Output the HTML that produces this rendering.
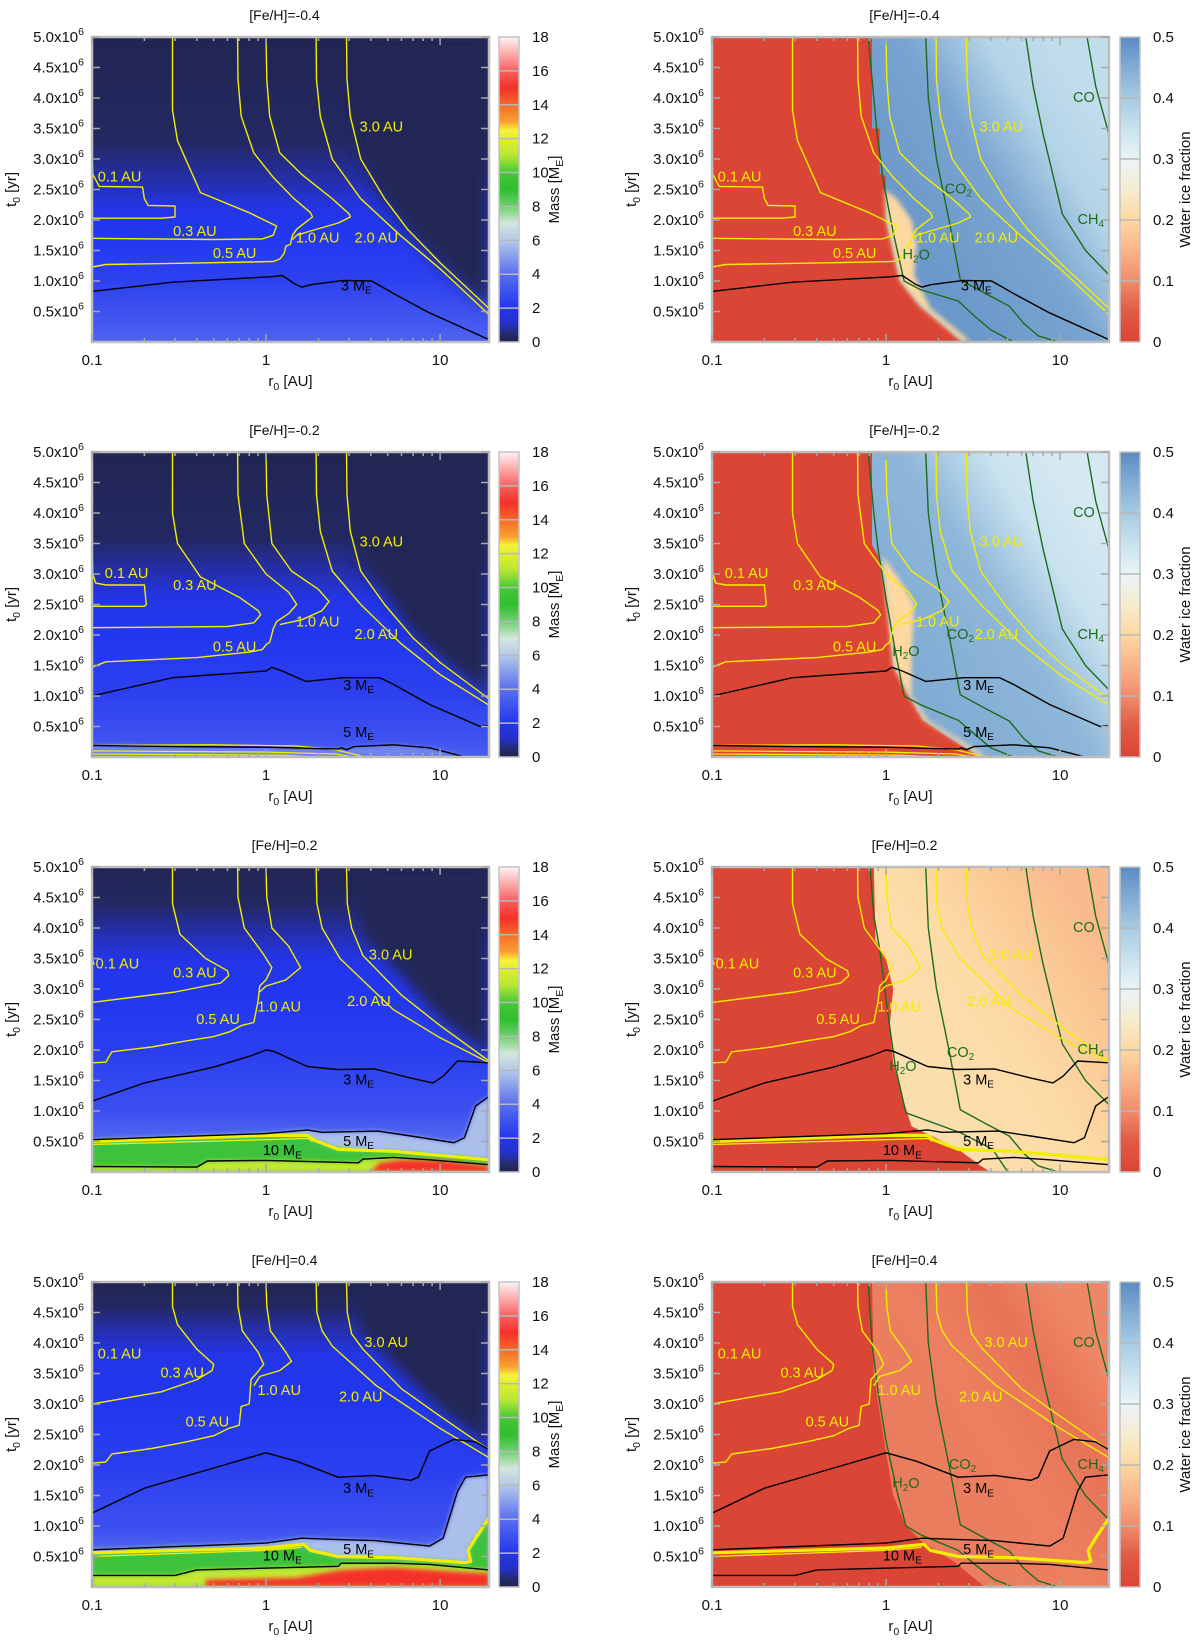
<!DOCTYPE html>
<html><head><meta charset="utf-8">
<style>
html,body{margin:0;padding:0;background:#fff;}
svg{display:block;font-family:"Liberation Sans",Arial,sans-serif;}
</style></head>
<body>
<svg id="fig" xmlns="http://www.w3.org/2000/svg" width="1200" height="1640" viewBox="0 0 1200 1640"></svg>
<script>
// ---------- axis / layout ----------
const RMIN = 0.1, RMAX = 19.1, TMAX = 5;
const W = 397, H = 305;
const X0L = 92, X0R = 712;
const TOPS = [37, 452, 867, 1282];
const titles = ["[Fe/H]=-0.4", "[Fe/H]=-0.2", "[Fe/H]=0.2", "[Fe/H]=0.4"];
const yTickVals = [0.5, 1.0, 1.5, 2.0, 2.5, 3.0, 3.5, 4.0, 4.5, 5.0];
const yTickText = ["0.5x10", "1.0x10", "1.5x10", "2.0x10", "2.5x10", "3.0x10", "3.5x10", "4.0x10", "4.5x10", "5.0x10"];
const xTickVals = [0.1, 1, 10];
const xTickText = ["0.1", "1", "10"];
const xMinorVals = [0.2,0.3,0.4,0.5,0.6,0.7,0.8,0.9,2,3,4,5,6,7,8,9];
const massTicks = [0,2,4,6,8,10,12,14,16,18];
const iceTicks = [0,0.1,0.2,0.3,0.4,0.5];
const iceTickText = ["0","0.1","0.2","0.3","0.4","0.5"];

// ---------- row 1 ([Fe/H]=-0.4) ----------
const row1_bgT = [5,3.3,2.6,2.2,1.8,1.0,0.3,0];
const row1_bgM = [0.1,0.3,0.9,1.8,2.0,2.4,3.2,3.6];
const row1_wedge = [[3.3,5],[3.3,3.2],[4.5,2.4],[6.5,1.8],[10,1.25],[19.1,0.55],[19.1,5]];
const row1_au01 = [[0.1,3.1],[0.101,2.75],[0.11,2.55],[0.195,2.54],[0.2,2.35],[0.21,2.24],[0.3,2.23],[0.3,2.05],[0.25,2.03],[0.1,2.03]];
const row1_au03 = [[0.29,5],[0.29,3.8],[0.31,3.3],[0.42,2.45],[0.8,2.12],[1.15,1.9],[1.1,1.75],[0.95,1.69],[0.5,1.68],[0.1,1.70]];
const row1_au05 = [[0.686,5],[0.69,4.3],[0.72,3.7],[0.85,3.1],[1.1,2.7],[1.45,2.35],[1.8,2.12],[1.85,2.05],[1.7,1.97],[1.5,1.85],[1.42,1.75],[1.38,1.6],[1.3,1.57],[1.27,1.45],[1.2,1.36],[1.1,1.32],[0.5,1.3],[0.12,1.27],[0.1,1.23]];
const row1_au10 = [[1.0,5],[1.01,4.3],[1.05,3.7],[1.2,3.1],[1.6,2.75],[2.4,2.35],[3.0,2.1],[3.05,2.05],[2.6,1.95],[1.8,1.82],[1.5,1.75],[1.42,1.68]];
const row1_au20 = [[1.94,5],[1.95,4.3],[2.05,3.7],[2.4,3.0],[3.5,2.35],[5.9,1.75],[10,1.2],[19.1,0.45]];
const row1_au30 = [[2.9,5],[2.92,4.3],[3.05,3.7],[3.5,3.0],[4.8,2.35],[6.5,1.85],[10,1.3],[19.1,0.55]];
const row1_m3 = [[0.1,0.83],[0.29,0.98],[1.08,1.07],[1.24,1.09],[1.47,0.95],[1.61,0.9],[1.81,0.94],[2.78,1.01],[4.04,1.0],[5.36,0.8],[8.66,0.48],[19.1,0.04]];
const row1_m5 = [];
const row1_m10 = [];
const row1_low1 = [];
const row1_low2 = [];
const row1_low3 = [];
const row1_red = [];
const row1_labelsY = [["0.1 AU",0.144,2.69],["0.3 AU",0.39,1.8],["0.5 AU",0.66,1.44],["1.0 AU",1.98,1.69],["2.0 AU",4.3,1.69],["3.0 AU",4.6,3.51]];
const row1_labelsK = [["3",3.3,0.91]];
const row1_h2o = [[0.79,5],[0.85,4],[0.89,3.4],[0.97,2.6],[1.1,1.8],[1.27,1.0],[1.57,0.86],[2.6,0.67],[3.3,0.4],[4.0,0.2],[5.4,0]];
const row1_ice = [[0.83,5],[0.83,3.5],[0.92,3.5],[0.92,2.77],[1.0,2.7],[1.0,2.0],[1.2,1.0],[1.57,0.59],[2.75,0]];
const row1_iceNear = 0.48, row1_iceFar = 0.36;
const row1_trans = [[0.98,2.5],[1.15,2.35],[1.4,2.0],[1.5,1.6],[1.45,1.1],[1.8,0.55],[3.0,0.03],[2.75,0],[1.55,0.6],[1.2,1.0],[1.0,2.0]];
const row1_labelsG = [["CO2",2.6,2.5],["H2O",1.49,1.42]];

// ---------- row 2 ([Fe/H]=-0.2) ----------
const row2_bgT = [5,3.6,3.0,2.6,2.0,1.0,0.3,0];
const row2_bgM = [0.1,0.3,0.9,1.8,2.0,2.4,3.0,3.4];
const row2_wedge = [[3.3,5],[3.3,3.3],[5,2.6],[7,2.0],[10,1.6],[19.1,1.0],[19.1,5]];
const row2_au01 = [[0.1,3.4],[0.101,3.0],[0.105,2.85],[0.12,2.82],[0.2,2.82],[0.205,2.5],[0.2,2.47],[0.1,2.47]];
const row2_au03 = [[0.29,5],[0.29,4.0],[0.31,3.5],[0.42,2.95],[0.7,2.62],[0.9,2.4],[0.93,2.33],[0.85,2.2],[0.6,2.14],[0.1,2.12]];
const row2_au05 = [[0.686,5],[0.69,4.3],[0.75,3.5],[1.0,3.0],[1.35,2.7],[1.5,2.5],[1.35,2.35],[1.15,2.22],[1.1,2.1],[1.05,1.88],[1.0,1.84],[0.95,1.76],[0.8,1.72],[0.4,1.63],[0.12,1.56],[0.1,1.47]];
const row2_au10 = [[1.0,5],[1.01,4.3],[1.08,3.5],[1.4,3.05],[2.0,2.75],[2.3,2.55],[2.1,2.4],[1.6,2.25],[1.2,2.17]];
const row2_au20 = [[1.94,5],[1.95,4.3],[2.05,3.7],[2.4,3.05],[3.5,2.5],[6,1.85],[10,1.35],[19.1,0.85]];
const row2_au30 = [[2.9,5],[2.92,4.3],[3.05,3.7],[3.5,3.05],[4.8,2.5],[7,1.95],[10,1.55],[19.1,0.95]];
const row2_m3 = [[0.1,1.0],[0.29,1.3],[1.0,1.41],[1.08,1.47],[1.24,1.41],[1.69,1.24],[2.8,1.3],[4.5,1.3],[5.4,1.19],[8.7,0.86],[17,0.5],[19.1,0.52]];
const row2_m5 = [[0.1,0.19],[0.3,0.17],[1.0,0.16],[2.6,0.13],[2.7,0.15],[2.9,0.12],[3.2,0.17],[5.4,0.2],[8.7,0.15],[13.5,0.01]];
const row2_m10 = [];
const row2_low1 = [[0.1,0.19],[0.5,0.2],[1.5,0.18],[2.5,0.12],[3.5,0.02]];
const row2_low2 = [[0.1,0.1],[1,0.08],[2.5,0.05],[3.2,0.0]];
const row2_low3 = [[0.1,0.05],[1.2,0.03],[2.0,0]];
const row2_red = [];
const row2_labelsY = [["0.1 AU",0.158,3.0],["0.3 AU",0.39,2.8],["0.5 AU",0.66,1.79],["1.0 AU",1.98,2.2],["2.0 AU",4.3,2.0],["3.0 AU",4.6,3.51]];
const row2_labelsK = [["3",3.4,1.16],["5",3.4,0.39]];
const row2_h2o = [[0.79,5],[0.85,4],[0.9,3.4],[1.0,2.6],[1.12,1.8],[1.27,1.0],[1.6,0.85],[2.6,0.6],[3.3,0.35],[4.0,0.15],[5.4,0]];
const row2_ice = [[0.83,5],[0.83,3.48],[0.9,3.3],[1.0,2.6],[1.1,1.5],[1.35,1.0],[1.64,0.6],[2.5,0.25],[3.5,0]];
const row2_iceNear = 0.45, row2_iceFar = 0.33;
const row2_trans = [[0.95,3.3],[1.2,2.9],[1.45,2.5],[1.4,1.6],[1.4,1.0],[1.75,0.6],[3.7,0.03],[3.5,0],[1.64,0.6],[1.35,1.0],[1.1,1.5],[1.0,2.6]];
const row2_labelsG = [["CO2",2.67,2.0],["H2O",1.3,1.72]];

// ---------- row 3 ([Fe/H]=0.2) ----------
const row3_bgT = [5,4.4,3.9,3.5,3.0,2.0,1.0,0.6,0];
const row3_bgM = [0.1,0.3,0.9,1.8,2.0,2.3,2.9,3.6,4];
const row3_wedge = [[3.5,5],[3.5,3.9],[6,3.2],[10,2.5],[19.1,1.9],[19.1,5]];
const row3_au01 = [[0.1,4.0],[0.1,3.5],[0.103,3.4]];
const row3_au03 = [[0.29,5],[0.29,4.4],[0.32,3.9],[0.45,3.5],[0.6,3.3],[0.61,3.22],[0.55,3.1],[0.3,2.95],[0.1,2.78]];
const row3_au05 = [[0.686,5],[0.69,4.5],[0.75,4.0],[0.95,3.6],[1.08,3.35],[1.0,3.15],[0.92,3.05],[0.9,2.8],[0.85,2.45],[0.72,2.4],[0.62,2.3],[0.5,2.22],[0.35,2.15],[0.22,2.05],[0.13,1.97],[0.12,1.8],[0.1,1.79]];
const row3_au10 = [[1.0,5],[1.01,4.5],[1.08,4.0],[1.35,3.7],[1.58,3.35],[1.3,3.15],[1.0,3.05],[0.92,2.95]];
const row3_au20 = [[1.94,5],[1.96,4.4],[2.1,4.0],[2.66,3.5],[5.4,2.66],[10,2.2],[19.1,1.79]];
const row3_au30 = [[2.9,5],[2.93,4.4],[3.1,4.0],[3.6,3.55],[6,2.9],[10,2.4],[19.1,1.82]];
const row3_m3 = [[0.1,1.16],[0.2,1.46],[0.5,1.72],[0.81,1.9],[1.0,2.0],[1.1,1.98],[1.73,1.73],[2.54,1.68],[4.2,1.69],[6.8,1.54],[9.1,1.46],[10.4,1.57],[12.6,1.82],[19.1,1.79]];
const row3_m5 = [[0.1,0.53],[1.0,0.63],[1.73,0.69],[2.1,0.65],[4.4,0.67],[6.8,0.59],[12,0.48],[13.8,0.56],[16,1.08],[19.1,1.24]];
const row3_m10 = [[0.1,0.09],[0.4,0.08],[0.46,0.18],[1.0,0.19],[3.4,0.15],[3.6,0.21],[5.4,0.24],[8.7,0.2],[19.1,0.12]];
const row3_low1 = [[0.1,0.5],[1.0,0.6],[1.73,0.6],[1.9,0.52],[2.6,0.37],[5.4,0.34],[19.1,0.2]];
const row3_low2 = [[0.1,0.45],[1,0.53],[1.75,0.55],[1.85,0.5]];
const row3_low3 = [];
const row3_red = [[4.0,0],[4.5,0.15],[6,0.2],[10,0.19],[19.1,0.1],[19.1,0]];
const row3_labelsY = [["0.1 AU",0.14,3.4],["0.3 AU",0.39,3.25],["0.5 AU",0.53,2.49],["1.0 AU",1.19,2.69],["2.0 AU",3.9,2.78],["3.0 AU",5.2,3.55]];
const row3_labelsK = [["3",3.4,1.5],["5",3.4,0.49],["10",1.24,0.34]];
const row3_h2o = [[0.81,5],[0.85,4.2],[0.92,3.65],[1.03,2.55],[1.13,1.73],[1.3,0.97],[2.7,0.64],[4.1,0.37],[5.0,0]];
const row3_ice = [[0.85,5],[0.87,3.8],[1.0,3.5],[1.1,3.0],[1.05,2.4],[1.1,1.8],[1.25,1.2],[1.4,0.75],[1.8,0.6],[2.6,0.37],[3.5,0.1],[4.0,0]];
const row3_iceNear = 0.215, row3_iceFar = 0.16;
const row3_trans = [];
const row3_labelsG = [["CO2",2.68,1.95],["H2O",1.25,1.72]];

// ---------- row 4 ([Fe/H]=0.4) ----------
const row4_bgT = [5,4.6,4.2,3.8,3.0,2.0,1.0,0.6,0];
const row4_bgM = [0.1,0.3,0.9,1.8,2.0,2.3,2.9,3.6,4];
const row4_wedge = [[3.5,5],[3.5,4.2],[6,3.5],[10,2.9],[19.1,2.3],[19.1,5]];
const row4_au01 = [[0.1,3.95],[0.1,3.7]];
const row4_au03 = [[0.29,5],[0.29,4.6],[0.31,4.3],[0.4,3.9],[0.5,3.65],[0.49,3.55],[0.4,3.4],[0.25,3.2],[0.1,3.0]];
const row4_au05 = [[0.686,5],[0.69,4.6],[0.73,4.2],[0.9,3.85],[0.97,3.65],[0.88,3.5],[0.82,3.4],[0.8,3.0],[0.72,2.96],[0.7,2.65],[0.61,2.6],[0.5,2.48],[0.35,2.38],[0.22,2.27],[0.13,2.18],[0.12,2.05],[0.1,2.03]];
const row4_au10 = [[1.0,5],[1.01,4.6],[1.06,4.2],[1.3,3.85],[1.4,3.7],[1.2,3.55],[0.92,3.45],[0.85,3.3]];
const row4_au20 = [[1.94,5],[1.96,4.5],[2.1,4.2],[2.4,3.95],[4.3,3.3],[10,2.6],[19.1,2.12]];
const row4_au30 = [[2.9,5],[2.93,4.5],[3.1,4.15],[3.6,3.9],[6,3.25],[10,2.8],[19.1,2.25]];
const row4_m3 = [[0.1,1.21],[0.2,1.62],[0.5,1.95],[1.0,2.2],[1.5,2.06],[2.6,1.8],[4.2,1.83],[6.8,1.75],[7.5,1.8],[8.7,2.23],[12,2.42],[16,2.38],[19.1,2.25]];
const row4_m5 = [[0.1,0.61],[1.0,0.72],[1.6,0.8],[2.5,0.78],[4.2,0.76],[8.7,0.67],[10.4,0.8],[12.6,1.57],[14,1.8],[19.1,1.84]];
const row4_m10 = [[0.1,0.19],[0.3,0.19],[0.4,0.28],[2.6,0.34],[2.7,0.39],[5.4,0.39],[8.7,0.37],[19.1,0.28]];
const row4_low1 = [[0.1,0.56],[1.0,0.64],[1.65,0.7],[1.8,0.6],[2.6,0.5],[5.4,0.48],[14,0.4],[15,0.42],[14.5,0.6],[16,0.8],[19.1,1.13]];
const row4_low2 = [[0.1,0.5],[1.0,0.6],[1.6,0.65]];
const row4_low3 = [];
const row4_red = [[0.45,0],[0.45,0.12],[1.5,0.15],[2.7,0.28],[5.4,0.32],[19.1,0.22],[19.1,0]];
const row4_labelsY = [["0.1 AU",0.144,3.81],["0.3 AU",0.33,3.5],["0.5 AU",0.46,2.69],["1.0 AU",1.19,3.21],["2.0 AU",3.5,3.1],["3.0 AU",4.9,4.0]];
const row4_labelsK = [["3",3.4,1.6],["5",3.4,0.6],["10",1.24,0.5]];
const row4_h2o = [[0.79,5],[0.83,4.0],[0.9,3.2],[1.0,2.4],[1.15,1.6],[1.3,1.0],[1.6,0.85],[2.6,0.6],[3.3,0.35],[4.2,0.12],[5.4,0]];
const row4_ice = [[0.83,5],[0.85,3.5],[0.95,2.6],[1.1,1.5],[1.3,1.0],[1.6,0.75],[2.5,0.4],[3.7,0]];
const row4_iceNear = 0.085, row4_iceFar = 0.095;
const row4_trans = [];
const row4_labelsG = [["CO2",2.75,2.0],["H2O",1.3,1.69]];

// ---------- shared ice lines ----------
const ice_co2 = [[1.69,5],[1.75,4],[1.95,3],[2.3,2.0],[2.67,1.02],[3.7,0.8],[5.1,0.59],[6.2,0.3],[7.5,0.1],[9.8,0]];
const ice_ch4 = [[6.35,5],[7,4.2],[8,3.4],[10.3,2.1],[14,1.5],[19.1,1.1]];
const ice_co = [[14.3,5],[16,4.2],[19.1,3.4]];
const ice_labelCO = [13.7,4.0];
const ice_labelCH4 = [15,2.0];

// ---------- colormaps ----------
const massStops = [[0,'#20244a'],[0.5,'#252b70'],[1,'#2530c0'],[2,'#2236f0'],[4,'#5a6ef0'],[6,'#b4c8ea'],[7,'#d4e6dc'],[8,'#6fd06f'],[9,'#2fbf2f'],[10,'#45c838'],[11,'#b5e636'],[12,'#e2f02a'],[12.5,'#f7f23a'],[13,'#f9a030'],[14,'#f86a28'],[15,'#f5302a'],[16,'#f86060'],[18,'#fff4f4']];
const iceStops = [[0,'#da4535'],[0.05,'#e05a44'],[0.1,'#f08c6a'],[0.15,'#f8b488'],[0.2,'#fdd8a0'],[0.25,'#f6ecd0'],[0.3,'#eaf4f8'],[0.35,'#c8e2ee'],[0.4,'#a6cae2'],[0.45,'#82acd4'],[0.5,'#5b8bc4']];

function hex2rgb(h){return [parseInt(h.slice(1,3),16),parseInt(h.slice(3,5),16),parseInt(h.slice(5,7),16)];}
function cmap(stops,v){
  if(v<=stops[0][0]) return stops[0][1];
  for(let i=1;i<stops.length;i++){
    if(v<=stops[i][0]){
      const a=stops[i-1],b=stops[i],f=(v-a[0])/(b[0]-a[0]);
      const ca=hex2rgb(a[1]),cb=hex2rgb(b[1]);
      return 'rgb('+ca.map((c,k)=>Math.round(c+(cb[k]-c)*f)).join(',')+')';
    }
  }
  return stops[stops.length-1][1];
}
const massColor = v=>cmap(massStops,v);
const iceColor = v=>cmap(iceStops,v);

function xs(r,x0){return x0 + W*Math.log10(r/RMIN)/Math.log10(RMAX/RMIN);}
function ys(t,top){return top + H*(1 - t/TMAX);}

const NS='http://www.w3.org/2000/svg';
const svg=document.getElementById('fig');
function mk(tag,parent){const e=document.createElementNS(NS,tag);(parent||svg).appendChild(e);return e;}
function pathD(pts,x0,top){return pts.map((p,i)=>(i?'L':'M')+xs(p[0],x0).toFixed(1)+','+ys(p[1],top).toFixed(1)).join('');}

const defs=mk('defs');
const blur=mk('filter',defs);blur.setAttribute('id','blur8');blur.setAttribute('x','-20%');blur.setAttribute('y','-20%');blur.setAttribute('width','140%');blur.setAttribute('height','140%');
const fb=mk('feGaussianBlur',blur);fb.setAttribute('stdDeviation','7');
const blur2=mk('filter',defs);blur2.setAttribute('id','blur3');blur2.setAttribute('x','-20%');blur2.setAttribute('y','-20%');blur2.setAttribute('width','140%');blur2.setAttribute('height','140%');
const fb2=mk('feGaussianBlur',blur2);fb2.setAttribute('stdDeviation','2.5');

const rows=[
 {bgT:row1_bgT,bgM:row1_bgM,wedge:row1_wedge,au:[row1_au01,row1_au03,row1_au05,row1_au10,row1_au20,row1_au30],m3:row1_m3,m5:row1_m5,m10:row1_m10,low:[row1_low1,row1_low2,row1_low3],red:row1_red,lY:row1_labelsY,lK:row1_labelsK,h2o:row1_h2o,ice:row1_ice,near:row1_iceNear,far:row1_iceFar,trans:row1_trans,lG:row1_labelsG},
 {bgT:row2_bgT,bgM:row2_bgM,wedge:row2_wedge,au:[row2_au01,row2_au03,row2_au05,row2_au10,row2_au20,row2_au30],m3:row2_m3,m5:row2_m5,m10:row2_m10,low:[row2_low1,row2_low2,row2_low3],red:row2_red,lY:row2_labelsY,lK:row2_labelsK,h2o:row2_h2o,ice:row2_ice,near:row2_iceNear,far:row2_iceFar,trans:row2_trans,lG:row2_labelsG},
 {bgT:row3_bgT,bgM:row3_bgM,wedge:row3_wedge,au:[row3_au01,row3_au03,row3_au05,row3_au10,row3_au20,row3_au30],m3:row3_m3,m5:row3_m5,m10:row3_m10,low:[row3_low1,row3_low2,row3_low3],red:row3_red,lY:row3_labelsY,lK:row3_labelsK,h2o:row3_h2o,ice:row3_ice,near:row3_iceNear,far:row3_iceFar,trans:row3_trans,lG:row3_labelsG},
 {bgT:row4_bgT,bgM:row4_bgM,wedge:row4_wedge,au:[row4_au01,row4_au03,row4_au05,row4_au10,row4_au20,row4_au30],m3:row4_m3,m5:row4_m5,m10:row4_m10,low:[row4_low1,row4_low2,row4_low3],red:row4_red,lY:row4_labelsY,lK:row4_labelsK,h2o:row4_h2o,ice:row4_ice,near:row4_iceNear,far:row4_iceFar,trans:row4_trans,lG:row4_labelsG}
];
const auNames=['0-1-au','0-3-au','0-5-au','1-0-au','2-0-au','3-0-au'];

function line(g,pts,x0,top,color,w,name){
  if(!pts.length) return;
  const p=mk('path',g);
  
  
  p.setAttribute('d',pathD(pts,x0,top));
  p.setAttribute('fill','none');p.setAttribute('stroke',color);p.setAttribute('stroke-width',w);p.setAttribute('stroke-linejoin','round');
}
function area(g,pts,x0,top,fill,name,filt){
  if(!pts.length) return;
  const p=mk('path',g);
  
  
  p.setAttribute('d',pathD(pts,x0,top)+'Z');
  p.setAttribute('fill',fill);
  if(filt) p.setAttribute('filter','url(#'+filt+')');
}
function under(pts){return pts.concat([[RMAX,0],[RMIN,0]]);}
function label(g,txt,sub,rest,x,y,color,name){
  const t=mk('text',g);
  
  
  t.setAttribute('x',x);t.setAttribute('y',y);t.setAttribute('fill',color);
  t.setAttribute('font-size','14.5');t.setAttribute('text-anchor','middle');t.setAttribute('dominant-baseline','middle');
  t.appendChild(document.createTextNode(txt));
  if(sub){const s=mk('tspan',t);s.setAttribute('font-size','10');s.setAttribute('dy','4');s.textContent=sub;
    if(rest){const r2=mk('tspan',t);r2.setAttribute('dy','-4');r2.textContent=rest;}}
  return t;
}

function axes(g,x0,top,idx){
  const fr=mk('rect',g);
  
  
  fr.setAttribute('x',x0);fr.setAttribute('y',top);fr.setAttribute('width',W);fr.setAttribute('height',H);
  fr.setAttribute('fill','none');fr.setAttribute('stroke','#bdbdbd');fr.setAttribute('stroke-width','2.5');
  const tk=mk('path',g);
  
  
  let d='';
  yTickVals.forEach(v=>{const y=ys(v,top);d+='M'+x0+','+y+'h8M'+(x0+W)+','+y+'h-8';});
  xTickVals.forEach(v=>{const x=xs(v,x0);d+='M'+x+','+(top+H)+'v-8M'+x+','+top+'v8';});
  xMinorVals.forEach(v=>{const x=xs(v,x0);d+='M'+x+','+(top+H)+'v-4M'+x+','+top+'v4';});
  tk.setAttribute('d',d);tk.setAttribute('stroke','#a8a8a8');tk.setAttribute('stroke-width','1.5');tk.setAttribute('fill','none');
  yTickVals.forEach((v,i)=>{
    const t=mk('text',g);
    
    
    t.setAttribute('x',x0-8);t.setAttribute('y',ys(v,top)+5);t.setAttribute('font-size','15');t.setAttribute('text-anchor','end');t.setAttribute('fill','#111');
    t.appendChild(document.createTextNode(yTickText[i]));
    const s=mk('tspan',t);s.setAttribute('font-size','10.5');s.setAttribute('dy','-7');s.textContent='6';
  });
  xTickVals.forEach((v,i)=>{
    const t=mk('text',g);
    
    
    t.setAttribute('x',xs(v,x0));t.setAttribute('y',top+H+23);t.setAttribute('font-size','15');t.setAttribute('text-anchor','middle');t.setAttribute('fill','#111');
    t.textContent=xTickText[i];
  });
  const xl=mk('text',g);
  
  
  xl.setAttribute('x',x0+W/2);xl.setAttribute('y',top+H+44);xl.setAttribute('font-size','15');xl.setAttribute('text-anchor','middle');xl.setAttribute('fill','#111');
  xl.appendChild(document.createTextNode('r'));
  let s=mk('tspan',xl);s.setAttribute('font-size','10.5');s.setAttribute('dy','4');s.textContent='0';
  s=mk('tspan',xl);s.setAttribute('dy','-4');s.textContent=' [AU]';
  const yl=mk('text',g);
  
  
  const cx=x0-76,cy=top+H/2;
  yl.setAttribute('x',cx);yl.setAttribute('y',cy);yl.setAttribute('font-size','15');yl.setAttribute('text-anchor','middle');yl.setAttribute('fill','#111');
  yl.setAttribute('transform','rotate(-90 '+cx+' '+cy+')');
  yl.appendChild(document.createTextNode('t'));
  s=mk('tspan',yl);s.setAttribute('font-size','10.5');s.setAttribute('dy','4');s.textContent='0';
  s=mk('tspan',yl);s.setAttribute('dy','-4');s.textContent=' [yr]';
  const ti=mk('text',g);
  
  
  ti.setAttribute('x',x0+W/2-6);ti.setAttribute('y',top-17);ti.setAttribute('font-size','14');ti.setAttribute('text-anchor','middle');ti.setAttribute('fill','#111');
  ti.textContent=titles[idx];
}

function colorbar(g,xc,top,isIce){
  const gid='cb'+(isIce?'i':'m')+top;
  const lg=mk('linearGradient',defs);lg.setAttribute('id',gid);lg.setAttribute('x1','0');lg.setAttribute('y1','1');lg.setAttribute('x2','0');lg.setAttribute('y2','0');
  const stops=isIce?iceStops:massStops, mx=isIce?0.5:18;
  stops.forEach(s=>{const st=mk('stop',lg);st.setAttribute('offset',s[0]/mx);st.setAttribute('stop-color',s[1]);});
  const r=mk('rect',g);
  
  
  r.setAttribute('x',xc);r.setAttribute('y',top);r.setAttribute('width',20);r.setAttribute('height',H);
  r.setAttribute('fill','url(#'+gid+')');r.setAttribute('stroke','#c4c4c4');r.setAttribute('stroke-width','1.5');
  const vals=isIce?iceTicks:massTicks;
  vals.forEach((v,i)=>{
    const y=top+H*(1-v/mx);
    if(i>0&&i<vals.length-1){
      const l=mk('line',g);
      
      
      l.setAttribute('x1',xc);l.setAttribute('x2',xc+20);l.setAttribute('y1',y);l.setAttribute('y2',y);l.setAttribute('stroke','#b8b8b8');l.setAttribute('stroke-width','1.5');
    }
    const t=mk('text',g);
    
    
    t.setAttribute('x',xc+33);t.setAttribute('y',y+5);t.setAttribute('font-size','15');t.setAttribute('fill','#111');
    t.textContent=isIce?iceTickText[i]:String(v);
  });
  const lb=mk('text',g);
  
  
  const cx=xc+(isIce?70:60),cy=top+H/2;
  lb.setAttribute('x',cx);lb.setAttribute('y',cy);lb.setAttribute('font-size','15');lb.setAttribute('text-anchor','middle');lb.setAttribute('fill','#111');
  lb.setAttribute('transform','rotate(-90 '+cx+' '+cy+')');
  if(isIce){lb.textContent='Water ice fraction';}
  else{lb.appendChild(document.createTextNode('Mass [M'));const s=mk('tspan',lb);s.setAttribute('font-size','10.5');s.setAttribute('dy','4');s.textContent='E';const s2=mk('tspan',lb);s2.setAttribute('dy','-4');s2.textContent=']';}
}

function clip(id,x0,top){
  const cp=mk('clipPath',defs);cp.setAttribute('id',id);
  const r=mk('rect',cp);r.setAttribute('x',x0);r.setAttribute('y',top);r.setAttribute('width',W);r.setAttribute('height',H);
}

function contours(g,R,x0,top){
  const Y='#f2ee00';
  R.low.forEach((l,i)=>line(g,l,x0,top,Y,i===0&&R.m10.length?3.2:1.3,'low-yellow-contour'));
  R.au.forEach((a,i)=>line(g,a,x0,top,Y,1.4,'contour-'+auNames[i]));
  line(g,R.m3,x0,top,'#000',1.4,'contour-3-me');
  line(g,R.m5,x0,top,'#000',1.4,'contour-5-me');
  line(g,R.m10,x0,top,'#000',1.4,'contour-10-me');
}
function contourLabels(g,R,x0,top){
  R.lY.forEach(l=>label(g,l[0],'','',xs(l[1],x0),ys(l[2],top),'#f2ee00','au-label'));
  R.lK.forEach(l=>label(g,l[0]+' M','E','',xs(l[1],x0),ys(l[2],top),'#000','mass-label'));
}

rows.forEach((R,idx)=>{
  const top=TOPS[idx];
  // ---- left: mass ----
  let x0=X0L;
  const gL=mk('g');
  
  
  clip('clipL'+idx,x0,top);
  const inner=mk('g',gL);inner.setAttribute('clip-path','url(#clipL'+idx+')');
  const gid='bgL'+idx;
  const lg=mk('linearGradient',defs);lg.setAttribute('id',gid);lg.setAttribute('gradientUnits','userSpaceOnUse');
  lg.setAttribute('x1',0);lg.setAttribute('x2',0);lg.setAttribute('y1',top);lg.setAttribute('y2',top+H);
  R.bgT.forEach((t,i)=>{const st=mk('stop',lg);st.setAttribute('offset',(1-t/TMAX).toFixed(3));st.setAttribute('stop-color',massColor(R.bgM[i]));});
  const bg=mk('rect',inner);
  
  
  bg.setAttribute('x',x0);bg.setAttribute('y',top);bg.setAttribute('width',W);bg.setAttribute('height',H);bg.setAttribute('fill','url(#'+gid+')');
  area(inner,R.wedge,x0,top,massColor(0.15),'dark-region','blur8');
  if(R.m5.length) area(inner,under(R.m5),x0,top,massColor(R.m10.length?5.8:4.5),'region-above-5me','blur3');
  if(R.m10.length){
    area(inner,under(R.low[0]),x0,top,massColor(8.8),'green-band','blur3');
    area(inner,under(R.m10),x0,top,massColor(11.3),'yellow-band','blur3');
    area(inner,R.red,x0,top,massColor(15),'red-band','blur3');
  }
  contours(inner,R,x0,top);
  contourLabels(inner,R,x0,top);
  axes(gL,x0,top,idx);
  colorbar(gL,499,top,false);

  // ---- right: ice fraction ----
  x0=X0R;
  const gR=mk('g');
  
  
  clip('clipR'+idx,x0,top);
  const inR=mk('g',gR);inR.setAttribute('clip-path','url(#clipR'+idx+')');
  const bgR=mk('rect',inR);
  
  
  bgR.setAttribute('x',x0);bgR.setAttribute('y',top);bgR.setAttribute('width',W);bgR.setAttribute('height',H);bgR.setAttribute('fill',iceColor(0));
  const ig='iceG'+idx;
  const lg2=mk('linearGradient',defs);lg2.setAttribute('id',ig);lg2.setAttribute('gradientUnits','userSpaceOnUse');
  lg2.setAttribute('x1',xs(1.5,x0));lg2.setAttribute('y1',top+H*0.7);lg2.setAttribute('x2',xs(RMAX,x0));lg2.setAttribute('y2',top+H*0.3);
  let s1=mk('stop',lg2);s1.setAttribute('offset','0');s1.setAttribute('stop-color',iceColor(R.near));
  s1=mk('stop',lg2);s1.setAttribute('offset','0.45');s1.setAttribute('stop-color',iceColor(R.near*0.85+R.far*0.15));
  s1=mk('stop',lg2);s1.setAttribute('offset','0.75');s1.setAttribute('stop-color',iceColor(R.far+0.02*(R.near>R.far?1:-1)));
  s1=mk('stop',lg2);s1.setAttribute('offset','1');s1.setAttribute('stop-color',iceColor(R.far));
  area(inR,R.ice.concat([[RMAX,0],[RMAX,5]]),x0,top,'url(#'+ig+')','ice-region');
  area(inR,R.trans,x0,top,iceColor(0.2),'ice-transition-zone','blur3');
  const G='#1d6b1d';
  line(inR,R.h2o,x0,top,G,1.4,'h2o-iceline');
  line(inR,ice_co2,x0,top,G,1.4,'co2-iceline');
  line(inR,ice_ch4,x0,top,G,1.4,'ch4-iceline');
  line(inR,ice_co,x0,top,G,1.4,'co-iceline');
  contours(inR,R,x0,top);
  contourLabels(inR,R,x0,top);
  R.lG.forEach(l=>{
    if(l[0]==='CO2') label(inR,'CO','2','',xs(l[1],x0),ys(l[2],top),G,'co2-label');
    else label(inR,'H','2','O',xs(l[1],x0),ys(l[2],top),G,'h2o-label');
  });
  label(inR,'CO','','',xs(ice_labelCO[0],x0),ys(ice_labelCO[1],top),G,'co-label');
  label(inR,'CH','4','',xs(ice_labelCH4[0],x0),ys(ice_labelCH4[1],top),G,'ch4-label');
  axes(gR,x0,top,idx);
  colorbar(gR,1120,top,true);
});
</script>
</body></html>
